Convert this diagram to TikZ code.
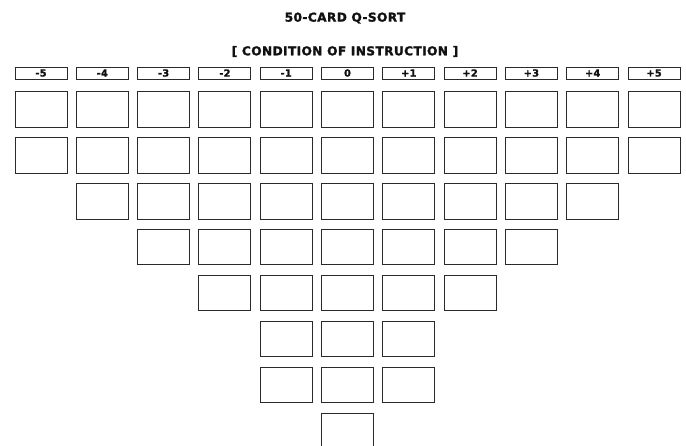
\documentclass[tikz,border=0pt]{standalone}
\usepackage{fontspec}
\setsansfont{DejaVu Sans}[BoldFeatures={FakeBold=1.6,LetterSpace=3}]
\definecolor{ink}{HTML}{111111}
\definecolor{edge}{HTML}{2A2A2A}

\begin{document}
\begin{tikzpicture}[x=1pt,y=-1pt,font=\sffamily\bfseries,
  card/.style={draw=edge,line width=0.9pt,minimum width=52pt,minimum height=35.5pt,inner sep=0pt},
  hdr/.style={draw=edge,line width=0.9pt,minimum width=52pt,minimum height=12pt,inner sep=0pt,font=\sffamily\bfseries\fontsize{9.8}{9.8}\selectfont,text=ink},
  ttl/.style={font=\sffamily\bfseries\fontsize{12.2}{12.2}\selectfont,text=ink}]
  \useasboundingbox (0,0) rectangle (686,446);

  % ===== titles =====
  \node[ttl] (title) at (345,18) {50-CARD Q-SORT};
  \node[ttl] (cond) at (345,51.5) {[ CONDITION OF INSTRUCTION ]};

  % ===== column heads =====
  \foreach \c/\t in {-5/-5,-4/-4,-3/-3,-2/-2,-1/-1,0/0,1/+1,2/+2,3/+3,4/+4,5/+5}
    \node[hdr] (head\c) at ({347.5+61.3*\c},73) {\t};

  % ===== card slots (2,3,4,5,7,8,7,5,4,3,2) =====
  \foreach \r/\n in {1/5,2/5,3/4,4/3,5/2,6/1,7/1,8/0}
    \foreach \c in {-\n,...,\n}
      \node[card] (card\r\c) at ({347.5+61.3*\c},{109.5+45.9*(\r-1)}) {};
\end{tikzpicture}
\end{document}
